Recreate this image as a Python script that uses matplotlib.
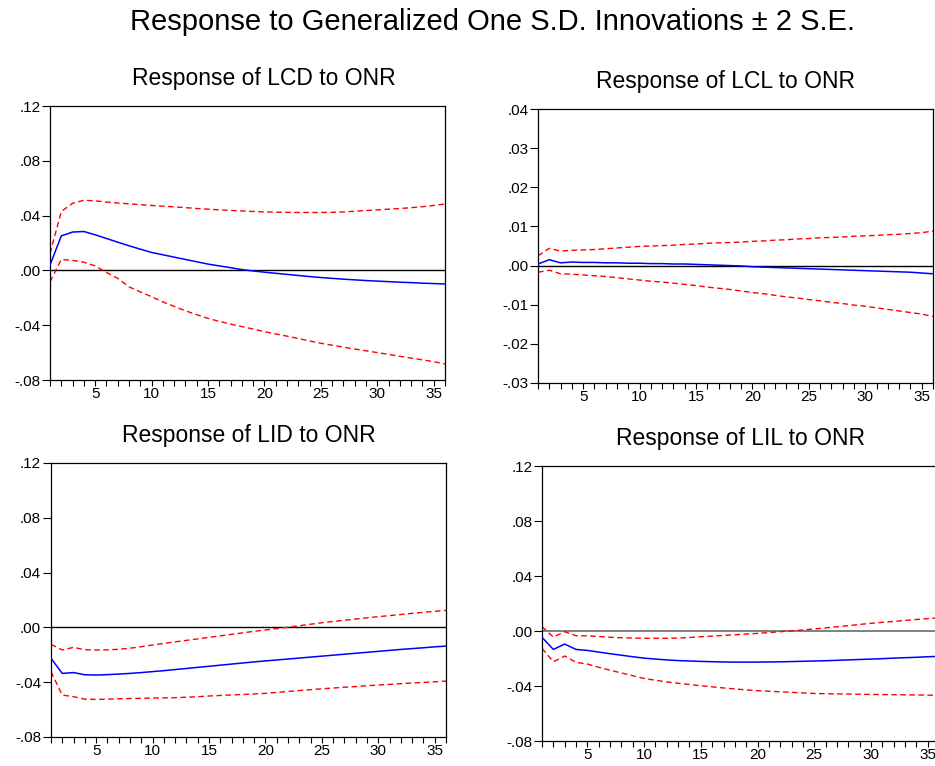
"""Generalized impulse responses of the four loan series to an ONR shock (± 2 S.E.)."""

import matplotlib

matplotlib.use("Agg")
import matplotlib.pyplot as plt
from matplotlib.ticker import FixedLocator, FuncFormatter, MultipleLocator

plt.rcParams["font.family"] = ["Liberation Sans", "DejaVu Sans"]

PERIODS = list(range(1, 37))

# Response of LCD to ONR
lcd_resp = [.0040, .0252, .0280, .0284, .0260, .0233, .0206, .0180, .0155, .0131,
            .0114, .0097, .0080, .0063, .0046, .0033, .0020, .0006, -.0004, -.0013,
            -.0021, -.0029, -.0037, -.0045, -.0052, -.0058, -.0064, -.0069, -.0074, -.0078,
            -.0082, -.0086, -.0089, -.0093, -.0096, -.0099]
lcd_upper = [.0124, .0430, .0490, .0512, .0508, .0499, .0492, .0486, .0480, .0474,
             .0469, .0464, .0458, .0452, .0447, .0442, .0438, .0434, .0430, .0427,
             .0425, .0424, .0423, .0423, .0423, .0424, .0427, .0432, .0437, .0442,
             .0447, .0452, .0458, .0465, .0474, .0485]
lcd_lower = [-.0083, .0080, .0073, .0060, .0033, -.0015, -.0058, -.0120, -.0157, -.0192,
             -.0230, -.0263, -.0295, -.0323, -.0350, -.0372, -.0392, -.0410, -.0428, -.0447,
             -.0464, -.0480, -.0497, -.0515, -.0532, -.0546, -.0560, -.0574, -.0587, -.0600,
             -.0613, -.0627, -.0640, -.0653, -.0666, -.0683]

# Response of LCL to ONR
lcl_resp = [.0004, .0015, .0007, .0009, .0008, .0008, .0007, .0007, .0006, .0006,
            .0005, .0005, .0004, .0004, .0003, .0002, .0001, .0000, -.0001, -.0003,
            -.0004, -.0005, -.0006, -.0007, -.0008, -.0009, -.0010, -.0011, -.0012, -.0013,
            -.0014, -.0015, -.0016, -.0017, -.0019, -.0021]
lcl_upper = [.0025, .0044, .0037, .0039, .0040, .0041, .0043, .0045, .0047, .0049,
             .0050, .0051, .0052, .0054, .0055, .0057, .0058, .0059, .0060, .0062,
             .0063, .0065, .0066, .0068, .0069, .0071, .0072, .0073, .0075, .0076,
             .0077, .0079, .0080, .0082, .0084, .0088]
lcl_lower = [-.0017, -.0012, -.0021, -.0022, -.0024, -.0026, -.0028, -.0031, -.0034, -.0037,
             -.0040, -.0042, -.0045, -.0048, -.0051, -.0055, -.0058, -.0061, -.0065, -.0069,
             -.0072, -.0076, -.0080, -.0083, -.0087, -.0090, -.0094, -.0097, -.0101, -.0104,
             -.0108, -.0112, -.0116, -.0120, -.0124, -.0130]

# Response of LID to ONR
lid_resp = [-.0226, -.0336, -.0330, -.0346, -.0348, -.0345, -.0341, -.0336, -.0330, -.0323,
            -.0316, -.0308, -.0300, -.0292, -.0284, -.0276, -.0268, -.0260, -.0252, -.0245,
            -.0238, -.0231, -.0224, -.0217, -.0210, -.0203, -.0196, -.0189, -.0182, -.0175,
            -.0168, -.0161, -.0155, -.0149, -.0142, -.0137]
lid_upper = [-.0124, -.0165, -.0146, -.0163, -.0165, -.0164, -.0160, -.0152, -.0141, -.0129,
             -.0117, -.0106, -.0095, -.0084, -.0073, -.0062, -.0051, -.0040, -.0029, -.0019,
             -.0009, .0001, .0012, .0023, .0034, .0043, .0052, .0061, .0070, .0078,
             .0086, .0094, .0102, .0110, .0117, .0124]
lid_lower = [-.0324, -.0494, -.0506, -.0524, -.0526, -.0524, -.0521, -.0519, -.0518, -.0516,
             -.0515, -.0513, -.0510, -.0506, -.0501, -.0497, -.0493, -.0490, -.0486, -.0482,
             -.0475, -.0468, -.0461, -.0455, -.0448, -.0443, -.0437, -.0432, -.0426, -.0421,
             -.0416, -.0411, -.0406, -.0402, -.0397, -.0392]

# Response of LIL to ONR
lil_resp = [-.0046, -.0134, -.0095, -.0134, -.0141, -.0153, -.0165, -.0176, -.0187, -.0197,
            -.0204, -.0210, -.0215, -.0218, -.0221, -.0223, -.0225, -.0226, -.0226, -.0226,
            -.0225, -.0224, -.0222, -.0220, -.0218, -.0216, -.0213, -.0210, -.0207, -.0204,
            -.0201, -.0197, -.0194, -.0191, -.0187, -.0184]
lil_upper = [.0032, -.0044, -.0005, -.0034, -.0035, -.0040, -.0045, -.0049, -.0051, -.0053,
             -.0053, -.0053, -.0051, -.0047, -.0041, -.0037, -.0032, -.0027, -.0022, -.0017,
             -.0011, -.0005, .0001, .0008, .0015, .0023, .0031, .0039, .0048, .0056,
             .0063, .0070, .0077, .0084, .0090, .0097]
lil_lower = [-.0126, -.0223, -.0182, -.0228, -.0240, -.0264, -.0285, -.0305, -.0325, -.0345,
             -.0358, -.0370, -.0380, -.0389, -.0398, -.0406, -.0414, -.0421, -.0428, -.0434,
             -.0438, -.0442, -.0446, -.0450, -.0454, -.0456, -.0457, -.0458, -.0460, -.0461,
             -.0462, -.0463, -.0464, -.0465, -.0466, -.0468]


def eviews_fmt(value, _pos):
    """EViews-style labels: no leading zero (.04, -.08)."""
    text = f"{round(value, 4):.2f}"
    if text.startswith("-0.00"):
        text = "0.00"
    return text.replace("0.", ".", 1)


def draw_panel(ax, title, resp, upper, lower, ylim, ystep, title_x=0.5, zero_color="black"):
    ax.axhline(0, color=zero_color, lw=1.0 if zero_color == "black" else 1.4, zorder=1)
    ax.plot(PERIODS, upper, color="red", lw=1.0, dashes=(4, 2.5), zorder=2)
    ax.plot(PERIODS, lower, color="red", lw=1.0, dashes=(4, 2.5), zorder=2)
    ax.plot(PERIODS, resp, color="blue", lw=1.1, zorder=3)

    ax.set_xlim(1, 36)
    ax.set_ylim(*ylim)
    ax.xaxis.set_major_locator(FixedLocator([5, 10, 15, 20, 25, 30, 35]))
    ax.xaxis.set_minor_locator(MultipleLocator(1))
    ax.yaxis.set_major_locator(MultipleLocator(ystep))
    ax.yaxis.set_major_formatter(FuncFormatter(eviews_fmt))
    ax.tick_params(axis="x", which="both", direction="out", length=4, width=0.8,
                   labelsize=11, pad=1)
    ax.tick_params(axis="y", direction="out", length=6, width=0.8, labelsize=11, pad=1)
    for spine in ax.spines.values():
        spine.set_linewidth(0.9)
    ax.set_title(title, fontsize=16.5, x=title_x, pad=15)


def main() -> None:
    fig = plt.figure(figsize=(9.35, 7.66), dpi=100)
    fig.text(0.527, 0.971, "Response to Generalized One S.D. Innovations \u00b1 2 S.E.",
             ha="center", va="center", fontsize=21)

    ax1 = fig.add_axes([0.0535, 0.5039, 0.4225, 0.3577])
    ax2 = fig.add_axes([0.5754, 0.5000, 0.4225, 0.3577])
    ax3 = fig.add_axes([0.0545, 0.0379, 0.4225, 0.3577])
    ax4 = fig.add_axes([0.5797, 0.0326, 0.4246, 0.3590])

    draw_panel(ax1, "Response of LCD to ONR", lcd_resp, lcd_upper, lcd_lower,
               (-0.08, 0.12), 0.04, title_x=0.54)
    draw_panel(ax2, "Response of LCL to ONR", lcl_resp, lcl_upper, lcl_lower,
               (-0.03, 0.04), 0.01, title_x=0.475)
    draw_panel(ax3, "Response of LID to ONR", lid_resp, lid_upper, lid_lower,
               (-0.08, 0.12), 0.04)
    draw_panel(ax4, "Response of LIL to ONR", lil_resp, lil_upper, lil_lower,
               (-0.08, 0.12), 0.04, zero_color="#808080")

    fig.savefig("out.png", dpi=100)
    plt.close(fig)


if __name__ == "__main__":
    main()
